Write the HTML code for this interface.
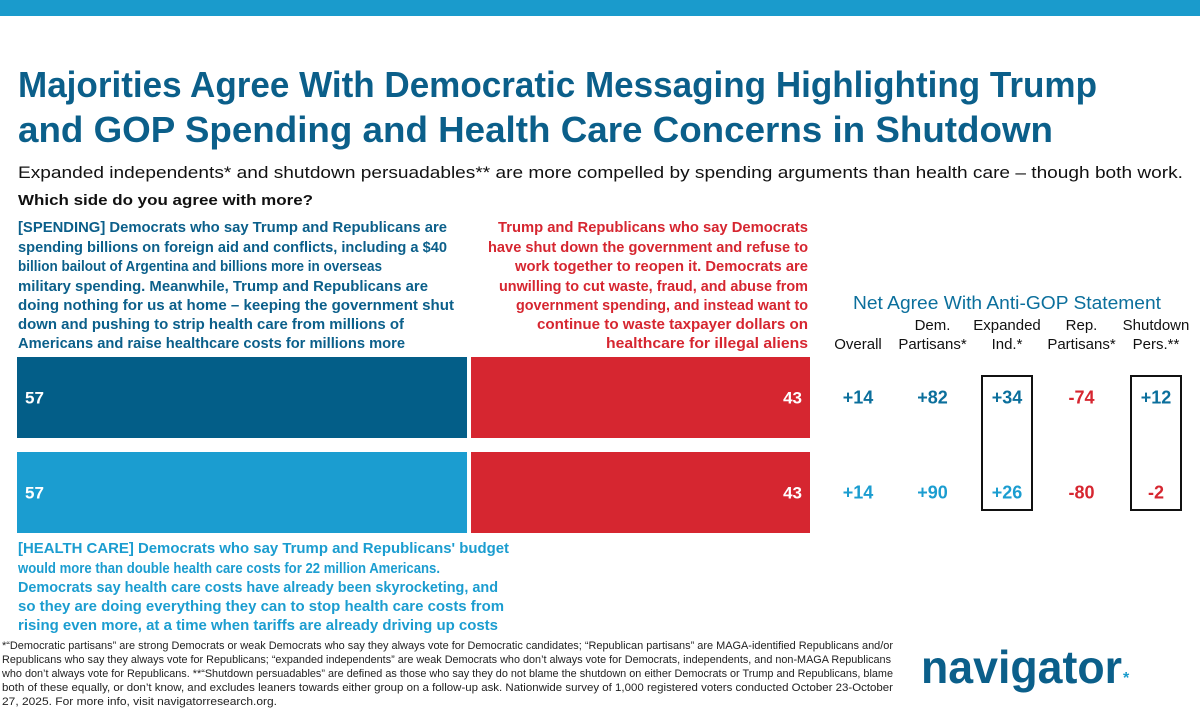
<!DOCTYPE html>
<html><head><meta charset="utf-8"><style>
html,body{margin:0;padding:0;background:#fff;}
svg{display:block;font-family:"Liberation Sans",sans-serif;}
</style></head><body>
<svg id="chart" width="1200" height="712" viewBox="0 0 1200 712">
<rect x="0" y="0" width="1200" height="16" fill="#1a9bcc"/>
<g fill="#0b5f8a" font-weight="bold" font-size="36">
<text x="18" y="97" textLength="1079" lengthAdjust="spacingAndGlyphs">Majorities Agree With Democratic Messaging Highlighting Trump</text>
<text x="18" y="142" textLength="1035" lengthAdjust="spacingAndGlyphs">and GOP Spending and Health Care Concerns in Shutdown</text>
</g>
<text x="18" y="178" font-size="17" fill="#111" textLength="1165" lengthAdjust="spacingAndGlyphs">Expanded independents* and shutdown persuadables** are more compelled by spending arguments than health care – though both work.</text>
<text x="18" y="205" font-size="15" font-weight="bold" fill="#111" textLength="295" lengthAdjust="spacingAndGlyphs">Which side do you agree with more?</text>
<g fill="#0b5f8a" font-weight="bold" font-size="15">
<text x="18" y="232" textLength="429" lengthAdjust="spacingAndGlyphs">[SPENDING] Democrats who say Trump and Republicans are</text>
<text x="18" y="252" textLength="429" lengthAdjust="spacingAndGlyphs">spending billions on foreign aid and conflicts, including a $40</text>
<text x="18" y="271" textLength="364" lengthAdjust="spacingAndGlyphs">billion bailout of Argentina and billions more in overseas</text>
<text x="18" y="291" textLength="410" lengthAdjust="spacingAndGlyphs">military spending. Meanwhile, Trump and Republicans are</text>
<text x="18" y="310" textLength="436" lengthAdjust="spacingAndGlyphs">doing nothing for us at home – keeping the government shut</text>
<text x="18" y="329" textLength="386" lengthAdjust="spacingAndGlyphs">down and pushing to strip health care from millions of</text>
<text x="18" y="348" textLength="387" lengthAdjust="spacingAndGlyphs">Americans and raise healthcare costs for millions more</text>
</g>
<g fill="#d62630" font-weight="bold" font-size="15" text-anchor="end">
<text x="808" y="232" textLength="310" lengthAdjust="spacingAndGlyphs">Trump and Republicans who say Democrats</text>
<text x="808" y="252" textLength="320" lengthAdjust="spacingAndGlyphs">have shut down the government and refuse to</text>
<text x="808" y="271" textLength="293" lengthAdjust="spacingAndGlyphs">work together to reopen it. Democrats are</text>
<text x="808" y="291" textLength="309" lengthAdjust="spacingAndGlyphs">unwilling to cut waste, fraud, and abuse from</text>
<text x="808" y="310" textLength="292" lengthAdjust="spacingAndGlyphs">government spending, and instead want to</text>
<text x="808" y="329" textLength="271" lengthAdjust="spacingAndGlyphs">continue to waste taxpayer dollars on</text>
<text x="808" y="348" textLength="202" lengthAdjust="spacingAndGlyphs">healthcare for illegal aliens</text>
</g>
<g id="bars"></g>
<g fill="#1b9dd0" font-weight="bold" font-size="15">
<text x="18" y="553" textLength="491" lengthAdjust="spacingAndGlyphs">[HEALTH CARE] Democrats who say Trump and Republicans' budget</text>
<text x="18" y="573" textLength="422" lengthAdjust="spacingAndGlyphs">would more than double health care costs for 22 million Americans.</text>
<text x="18" y="592" textLength="480" lengthAdjust="spacingAndGlyphs">Democrats say health care costs have already been skyrocketing, and</text>
<text x="18" y="611" textLength="486" lengthAdjust="spacingAndGlyphs">so they are doing everything they can to stop health care costs from</text>
<text x="18" y="630" textLength="480" lengthAdjust="spacingAndGlyphs">rising even more, at a time when tariffs are already driving up costs</text>
</g>
<text x="1007" y="309" text-anchor="middle" font-size="18" fill="#0b6f9c" textLength="308" lengthAdjust="spacingAndGlyphs">Net Agree With Anti-GOP Statement</text>
<g id="table" font-size="15" fill="#111" text-anchor="middle"></g>
<g font-size="11" fill="#222">
<text x="2" y="649" textLength="891" lengthAdjust="spacingAndGlyphs">*“Democratic partisans” are strong Democrats or weak Democrats who say they always vote for Democratic candidates; “Republican partisans” are MAGA-identified Republicans and/or</text>
<text x="2" y="663" textLength="889" lengthAdjust="spacingAndGlyphs">Republicans who say they always vote for Republicans; “expanded independents” are weak Democrats who don’t always vote for Democrats, independents, and non-MAGA Republicans</text>
<text x="2" y="677" textLength="891" lengthAdjust="spacingAndGlyphs">who don’t always vote for Republicans. **“Shutdown persuadables” are defined as those who say they do not blame the shutdown on either Democrats or Trump and Republicans, blame</text>
<text x="2" y="691" textLength="891" lengthAdjust="spacingAndGlyphs">both of these equally, or don’t know, and excludes leaners towards either group on a follow-up ask. Nationwide survey of 1,000 registered voters conducted October 23-October</text>
<text x="2" y="705" textLength="275" lengthAdjust="spacingAndGlyphs">27, 2025. For more info, visit navigatorresearch.org.</text>
</g>
<text x="921" y="683" font-size="46" font-weight="bold" fill="#0b5f8a" textLength="201" lengthAdjust="spacingAndGlyphs">navigator</text>
<text x="1123" y="683" font-size="16" font-weight="bold" fill="#1a9bcc">*</text>
</svg>
<script>
const NS="http://www.w3.org/2000/svg";
const rows=["spending","health-care"];
const demShare=[57,57];
const gopShare=[43,43];
const demColors=["#035e88","#1b9dd0"];
const columns=["overall","dem-partisans","expanded-ind","rep-partisans","shutdown-pers"];
const headerLine1=["","Dem.","Expanded","Rep.","Shutdown"];
const headerLine2=["Overall","Partisans*","Ind.*","Partisans*","Pers.**"];
const netSpending=[14,82,34,-74,12];
const netHealth=[14,90,26,-80,-2];
const netValues=[netSpending,netHealth];
const boxedColumns=[2,4];

const x0=17,xMax=810,gap=4;
const xScale=v=>v*(xMax-x0)/100;
const rowTop=[357,452],barH=81;
const colX=i=>858+i*74.5;
const bars=document.getElementById('bars');
function mk(tag,attrs,parent){const e=document.createElementNS(NS,tag);for(const k in attrs)e.setAttribute(k,attrs[k]);parent.appendChild(e);return e;}
rows.forEach((r,i)=>{
  const y=rowTop[i];
  const wd=xScale(demShare[i])-gap/2;
  const b=mk('rect',{x:x0,y:y,width:wd,height:barH,fill:demColors[i]},bars);
  
  
  const wg=xScale(gopShare[i])-gap/2;
  const g=mk('rect',{x:xMax-wg,y:y,width:wg,height:barH,fill:"#d62630"},bars);
  
  
  const t1=mk('text',{x:x0+8,y:y+barH/2+6,fill:"#fff","font-size":17,"font-weight":"bold"},bars);
  t1.textContent=demShare[i];
  
  
  const t2=mk('text',{x:xMax-8,y:y+barH/2+6,fill:"#fff","font-size":17,"font-weight":"bold","text-anchor":"end"},bars);
  t2.textContent=gopShare[i];
  
  
});
const tbl=document.getElementById('table');
const valColors=[["#0b6f9c","#d62630"],["#1b9dd0","#d62630"]];
columns.forEach((c,j)=>{
  const x=colX(j);
  if(headerLine1[j]){const h=mk('text',{x:x,y:330},tbl);h.textContent=headerLine1[j];
    
    }
  const h2=mk('text',{x:x,y:349},tbl);h2.textContent=headerLine2[j];
  
  
  if(boxedColumns.includes(j)){
    const bx=mk('rect',{x:x-25,y:376,width:50,height:134,fill:"none",stroke:"#111","stroke-width":2},tbl);
    
    
  }
  rows.forEach((r,i)=>{
    const v=netValues[i][j];
    const t=mk('text',{x:x,y:rowTop[i]+barH/2+6,"font-size":18,"font-weight":"bold",fill:v>=0?valColors[i][0]:valColors[i][1]},tbl);
    t.textContent=(v>0?"+":"")+v;
    
    
  });
});
</script>
</body></html>
